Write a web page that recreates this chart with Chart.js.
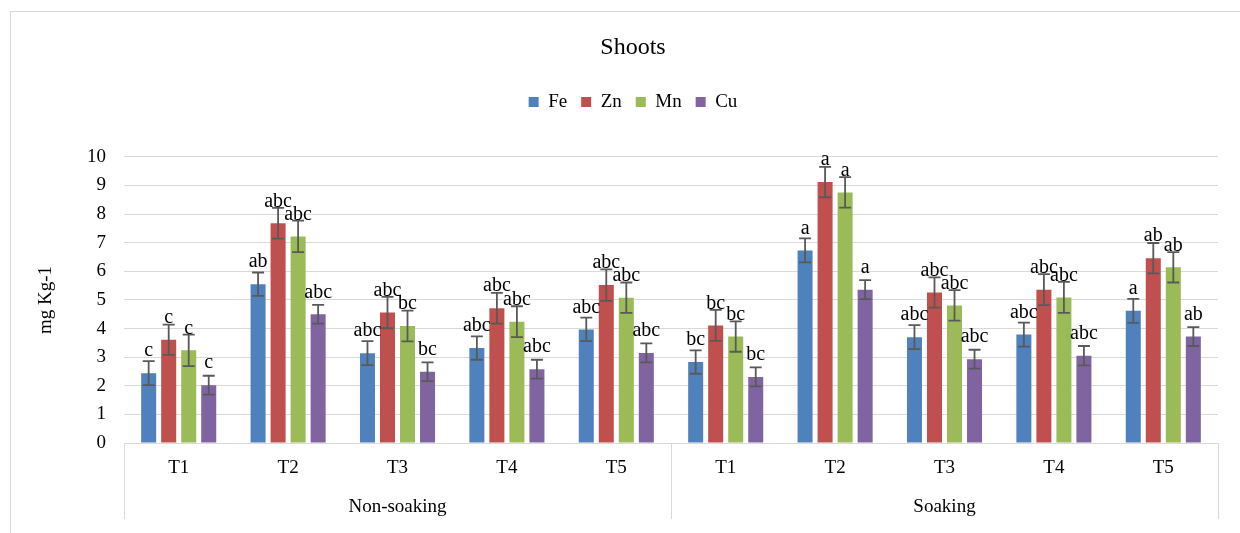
<!DOCTYPE html>
<html>
<head>
<meta charset="utf-8">
<title>Shoots</title>
<script src="https://cdn.jsdelivr.net/npm/chart.js@4/dist/chart.umd.min.js"></script>
<style>
  html, body { margin: 0; padding: 0; background: #fff; }
  #wrap { width: 1240px; height: 533px; }
</style>
</head>
<body>
<div id="wrap"><canvas id="c" width="1240" height="533"></canvas></div>
<script>
// Treatments within each soaking group
const treatments = ['T1', 'T2', 'T3', 'T4', 'T5', 'T1', 'T2', 'T3', 'T4', 'T5'];
const groups = ['Non-soaking', 'Soaking'];
const yTicks = [0, 1, 2, 3, 4, 5, 6, 7, 8, 9, 10];

// Shoot micronutrient concentrations (mg Kg-1)
const fe = [2.44, 5.55, 3.14, 3.32, 3.97, 2.83, 6.73, 3.70, 3.79, 4.62];
const zn = [3.61, 7.68, 4.56, 4.71, 5.52, 4.11, 9.12, 5.26, 5.36, 6.46];
const mn = [3.24, 7.22, 4.09, 4.24, 5.08, 3.72, 8.76, 4.81, 5.09, 6.14];
const cu = [2.02, 4.50, 2.49, 2.58, 3.15, 2.31, 5.36, 2.93, 3.05, 3.72];

// Standard errors
const feErr = [0.42, 0.41, 0.42, 0.41, 0.41, 0.41, 0.42, 0.42, 0.42, 0.42];
const znErr = [0.53, 0.54, 0.55, 0.54, 0.55, 0.54, 0.53, 0.53, 0.54, 0.53];
const mnErr = [0.55, 0.55, 0.54, 0.54, 0.53, 0.53, 0.53, 0.53, 0.54, 0.53];
const cuErr = [0.33, 0.33, 0.33, 0.33, 0.33, 0.33, 0.33, 0.33, 0.34, 0.33];

// Significance letters
const feSig = ['c', 'ab', 'abc', 'abc', 'abc', 'bc', 'a', 'abc', 'abc', 'a'];
const znSig = ['c', 'abc', 'abc', 'abc', 'abc', 'bc', 'a', 'abc', 'abc', 'ab'];
const mnSig = ['c', 'abc', 'bc', 'abc', 'abc', 'bc', 'a', 'abc', 'abc', 'ab'];
const cuSig = ['c', 'abc', 'bc', 'abc', 'abc', 'bc', 'a', 'abc', 'abc', 'ab'];

const SERIF = "'Liberation Serif', 'Times New Roman', serif";
const GRID = '#d9d9d9';

function makeSet(label, data, err, sig, color) {
  return {
    label, data, err, sig,
    backgroundColor: color,
    borderWidth: 0,
    categoryPercentage: 0.732,
    barPercentage: 0.75,
    xAxisID: 'x',
    yAxisID: 'y'
  };
}

// Outer frame of the chart
const framePlugin = {
  id: 'frame',
  beforeDraw(chart) {
    const ctx = chart.ctx;
    ctx.save();
    ctx.fillStyle = '#fff';
    ctx.fillRect(0, 0, chart.width, chart.height);
    ctx.strokeStyle = GRID;
    ctx.lineWidth = 1;
    ctx.strokeRect(10.5, 11.5, 1300, 600);
    ctx.restore();
  }
};

// Error bars and letter labels above each bar
const barExtrasPlugin = {
  id: 'barExtras',
  afterDatasetsDraw(chart) {
    const ctx = chart.ctx;
    const ys = chart.scales.y;
    ctx.save();
    chart.data.datasets.forEach((ds, i) => {
      const meta = chart.getDatasetMeta(i);
      meta.data.forEach((el, j) => {
        const v = ds.data[j], e = ds.err[j];
        const yHi = ys.getPixelForValue(v + e);
        const yLo = ys.getPixelForValue(v - e);
        ctx.strokeStyle = '#595959';
        ctx.lineWidth = 1.8;
        ctx.beginPath();
        ctx.moveTo(el.x, yHi); ctx.lineTo(el.x, yLo);
        ctx.moveTo(el.x - 6, yHi); ctx.lineTo(el.x + 6, yHi);
        ctx.moveTo(el.x - 6, yLo); ctx.lineTo(el.x + 6, yLo);
        ctx.stroke();
      });
    });
    ctx.fillStyle = '#000';
    ctx.font = '20px ' + SERIF;
    ctx.textAlign = 'center';
    ctx.textBaseline = 'middle';
    chart.data.datasets.forEach((ds, i) => {
      const meta = chart.getDatasetMeta(i);
      meta.data.forEach((el, j) => {
        ctx.fillText(ds.sig[j], el.x, ys.getPixelForValue(ds.data[j]) - 22);
      });
    });
    ctx.restore();
  }
};

// Group dividers for the two-level category axis
const groupLinesPlugin = {
  id: 'groupLines',
  afterDraw(chart) {
    const xs = chart.scales.x, x2 = chart.scales.x2;
    const mid = (xs.getPixelForValue(4) + xs.getPixelForValue(5)) / 2;
    const ctx = chart.ctx;
    ctx.save();
    ctx.strokeStyle = GRID;
    ctx.lineWidth = 1;
    ctx.beginPath();
    [xs.left, mid, xs.right].forEach(px => {
      const p = Math.round(px) + 0.5;
      ctx.moveTo(p, xs.top);
      ctx.lineTo(p, x2.bottom);
    });
    ctx.stroke();
    ctx.restore();
  }
};

new Chart(document.getElementById('c'), {
  type: 'bar',
  data: {
    labels: treatments,
    datasets: [
      makeSet('Fe', fe, feErr, feSig, '#4F81BD'),
      makeSet('Zn', zn, znErr, znSig, '#C0504D'),
      makeSet('Mn', mn, mnErr, mnSig, '#9BBB59'),
      makeSet('Cu', cu, cuErr, cuSig, '#8064A2')
    ]
  },
  plugins: [framePlugin, barExtrasPlugin, groupLinesPlugin],
  options: {
    responsive: false,
    animation: false,
    devicePixelRatio: 1,
    layout: { padding: { left: 26, right: 0, top: 0, bottom: 14 } },
    plugins: {
      title: {
        display: true,
        text: 'Shoots',
        color: '#000',
        font: { family: SERIF, size: 24, weight: 'normal' },
        padding: { top: 33.6, bottom: 16 }
      },
      legend: {
        display: true,
        position: 'top',
        labels: {
          color: '#000',
          font: { family: SERIF, size: 19 },
          boxWidth: 10,
          boxHeight: 10,
          padding: 14
        }
      },
      tooltip: { enabled: false }
    },
    scales: {
      y: {
        position: 'left',
        min: 0,
        max: 10,
        afterBuildTicks(s) { s.ticks = yTicks.map(v => ({ value: v })); },
        afterFit(s) { s.width = 98; },
        grid: { color: GRID, lineWidth: 1, drawTicks: false },
        border: { display: false },
        ticks: {
          color: '#000',
          font: { family: SERIF, size: 19 },
          padding: 18
        },
        title: {
          display: true,
          text: 'mg Kg-1',
          color: '#000',
          font: { family: SERIF, size: 19 },
          padding: { top: 8.6, bottom: 0 }
        }
      },
      yRight: {
        type: 'linear',
        position: 'right',
        display: true,
        grid: { display: false, drawTicks: false },
        border: { display: false },
        ticks: { display: false },
        afterFit(s) { s.width = 22; }
      },
      xTop: {
        type: 'category',
        position: 'top',
        display: true,
        grid: { display: false, drawTicks: false },
        border: { display: false },
        ticks: { display: false },
        afterFit(s) { s.height = 35.5; }
      },
      x: {
        position: 'bottom',
        offset: true,
        grid: { display: false, drawTicks: false },
        border: { display: true, color: GRID, width: 1 },
        ticks: {
          color: '#000',
          font: { family: SERIF, size: 19 },
          padding: 13.6,
          maxRotation: 0,
          autoSkip: false
        },
        afterFit(s) { s.height = 44; }
      },
      x2: {
        type: 'category',
        position: 'bottom',
        labels: groups,
        offset: true,
        grid: { display: false, drawTicks: false },
        border: { display: false },
        ticks: {
          color: '#000',
          font: { family: SERIF, size: 19 },
          padding: 8.6,
          maxRotation: 0,
          autoSkip: false
        },
        afterFit(s) { s.height = 32; }
      }
    }
  }
});
</script>
</body>
</html>
